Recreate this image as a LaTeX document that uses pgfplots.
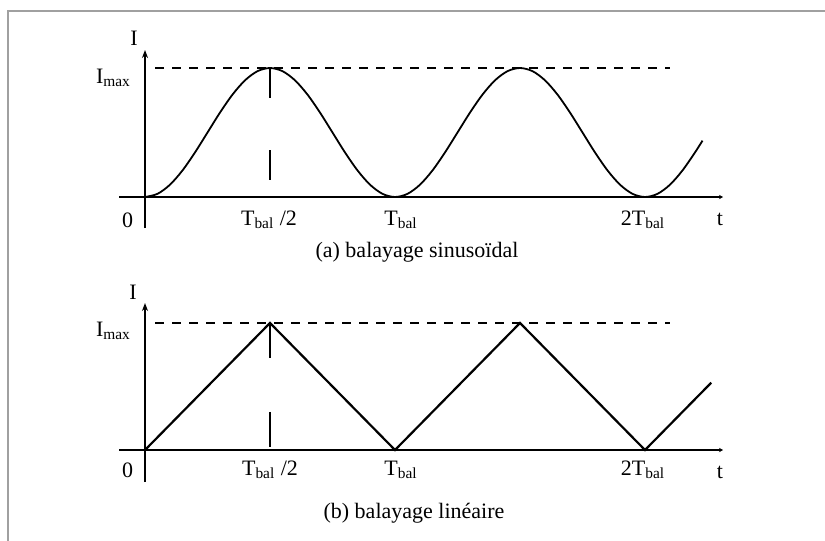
\documentclass[border=0pt]{standalone}
\usepackage{fontspec}
\setmainfont{Liberation Serif}
\usepackage{pgfplots}
\pgfplotsset{compat=1.18}
\usetikzlibrary{arrows.meta}

\definecolor{framegray}{RGB}{160,160,160}

\tikzset{lbl/.style={font=\fontsize{11}{13}\selectfont}}
\pgfplotsset{
  panel/.style={
    scale only axis, width=302pt,
    xmin=-0.104, xmax=2.312,
    axis lines=middle, xtick=\empty, ytick=\empty,
    clip=false, anchor=origin,
    axis line style={line width=0.9pt},
    x axis line style={-{Stealth[length=2pt,width=2.2pt]}},
    y axis line style={-{Stealth[length=4pt,width=3pt]}},
  },
}
\newcommand{\Imax}{I\textsubscript{max}}
\newcommand{\Tb}{T\textsubscript{bal}}

\begin{document}
\begin{tikzpicture}
\useasboundingbox (0,0) rectangle (412.5pt,-270.5pt);
\draw[framegray,line width=1pt] (4pt,-270.5pt) -- (4pt,-5.5pt) -- (412.5pt,-5.5pt);

% (a) sinusoidal sweep
\begin{axis}[panel, height=89pt, ymin=-0.2403, ymax=1.1395, at={(72.5pt,-98.5pt)}]
\addplot[black,line width=0.9pt,smooth] coordinates {
 (0,0) (0.05,0.0245) (0.1,0.0955) (0.15,0.2061) (0.2,0.3455) (0.25,0.5)
 (0.3,0.6545) (0.35,0.7939) (0.4,0.9045) (0.45,0.9755) (0.5,1)
 (0.55,0.9755) (0.6,0.9045) (0.65,0.7939) (0.7,0.6545) (0.75,0.5)
 (0.8,0.3455) (0.85,0.2061) (0.9,0.0955) (0.95,0.0245) (1,0)
 (1.05,0.0245) (1.1,0.0955) (1.15,0.2061) (1.2,0.3455) (1.25,0.5)
 (1.3,0.6545) (1.35,0.7939) (1.4,0.9045) (1.45,0.9755) (1.5,1)
 (1.55,0.9755) (1.6,0.9045) (1.65,0.7939) (1.7,0.6545) (1.75,0.5)
 (1.8,0.3455) (1.85,0.2061) (1.9,0.0955) (1.95,0.0245) (2,0)
 (2.05,0.0245) (2.1,0.0955) (2.15,0.2061) (2.2,0.3455) (2.23,0.437)};
\addplot[black,line width=0.9pt,dash pattern=on 4.5pt off 4pt] coordinates {(0.04,1) (2.1,1)};
\addplot[black,line width=0.9pt,dash pattern=on 15pt off 26pt] coordinates {(0.5,1) (0.5,0.116)};
\node[lbl] at (axis cs:-0.044,1.233) {I};
\node[lbl,anchor=east] at (axis cs:-0.028,0.922) {\Imax};
\node[lbl] at (axis cs:-0.07,-0.178) {0};
\node[lbl] at (axis cs:0.496,-0.178) {\Tb{} /2};
\node[lbl] at (axis cs:1.024,-0.178) {\Tb};
\node[lbl] at (axis cs:1.992,-0.178) {2\Tb};
\node[lbl] at (axis cs:2.3,-0.17) {t};
\node[lbl] at (axis cs:1.088,-0.426) {(a) balayage sinusoïdal};
\end{axis}

% (b) linear sweep
\begin{axis}[panel, height=89.5pt, ymin=-0.252, ymax=1.157, at={(72.5pt,-225pt)}]
\addplot[black,line width=1.1pt] coordinates {
 (0,0) (0.5,1) (1,0) (1.5,1) (2,0) (2.265,0.53)};
\addplot[black,line width=0.9pt,dash pattern=on 4.5pt off 4pt] coordinates {(0.04,1) (2.1,1)};
\addplot[black,line width=0.9pt,dash pattern=on 17.5pt off 27pt] coordinates {(0.5,1) (0.5,0.024)};
\node[lbl] at (axis cs:-0.048,1.244) {I};
\node[lbl,anchor=east] at (axis cs:-0.028,0.937) {\Imax};
\node[lbl] at (axis cs:-0.07,-0.157) {0};
\node[lbl] at (axis cs:0.5,-0.157) {\Tb{} /2};
\node[lbl] at (axis cs:1.024,-0.157) {\Tb};
\node[lbl] at (axis cs:1.992,-0.157) {2\Tb};
\node[lbl] at (axis cs:2.3,-0.173) {t};
\node[lbl] at (axis cs:1.076,-0.496) {(b) balayage linéaire};
\end{axis}
\end{tikzpicture}
\end{document}
